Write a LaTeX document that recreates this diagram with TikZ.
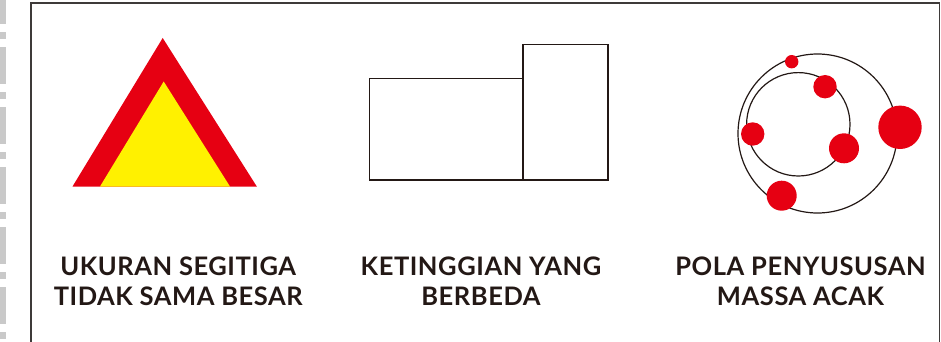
\documentclass[tikz,border=0pt]{standalone}
\usepackage{fontspec}
\setmainfont{Lato}
\usetikzlibrary{positioning}
\definecolor{inkred}{HTML}{E60012}
\definecolor{inkyellow}{HTML}{FFF100}
\definecolor{inkdark}{HTML}{231815}
\definecolor{framegray}{HTML}{3E3A39}
\definecolor{stripgray}{HTML}{C9C9C9}
\tikzset{
  caption/.style={font=\fontsize{25.5}{30.7}\selectfont\bfseries\addfontfeatures{LetterSpace=2.2}, text=inkdark, align=center, inner sep=0pt, anchor=north},
  outline/.style={draw=inkdark, line width=1.4pt},
  blob/.style={fill=inkred},
  frameline/.style={draw=framegray, line width=1.2pt},
  stripdash/.style={fill=stripgray}
}

\begin{document}
\begin{tikzpicture}[x=1pt, y=-1pt]
  \useasboundingbox (0,0) rectangle (941,342);
  % dashed strip on the left
  \foreach \y in {-13,47,107,167,227,287} {
    \fill[stripdash] (0,\y) rectangle (6,\y+37);
    \fill[stripdash] (0,\y+45) rectangle (6,\y+52);
  }
  % frame
  \draw[frameline] (31,345) -- (31,3) -- (939.5,3) -- (939.5,345);

  % triangle
  \fill[inkred] (72.5,186.5) -- (162.7,38) -- (256.8,186.5) -- cycle;
  \fill[inkyellow] (100,186.5) -- (163.7,81.5) -- (230,186.5) -- cycle;

  % two blocks
  \draw[outline] (369.5,78.5) rectangle (522.8,180);
  \draw[outline] (522.8,44.8) rectangle (607.8,180);

  % orbits and masses
  \draw[outline, line width=1.2pt] (817.5,133.5) circle (79.5);
  \draw[outline, line width=1.2pt] (798.3,124.3) circle (51.7);
  \foreach \cx/\cy/\r in {791.7/61.7/6.7, 825/86.7/11.7, 752.7/134/11.7, 844/148.3/15, 900/127.3/21.7, 781.7/195.7/15}
    \fill[blob] (\cx,\cy) circle (\r);

  % captions
  \node[caption] (cap-size) at (178.2,256.3) {UKURAN SEGITIGA\\TIDAK SAMA BESAR};
  \node[caption] (cap-height) at (481,256.3) {KETINGGIAN YANG\\BERBEDA};
  \node[caption] (cap-mass) at (800.5,256.3) {POLA PENYUSUSAN\\MASSA ACAK};
\end{tikzpicture}
\end{document}
